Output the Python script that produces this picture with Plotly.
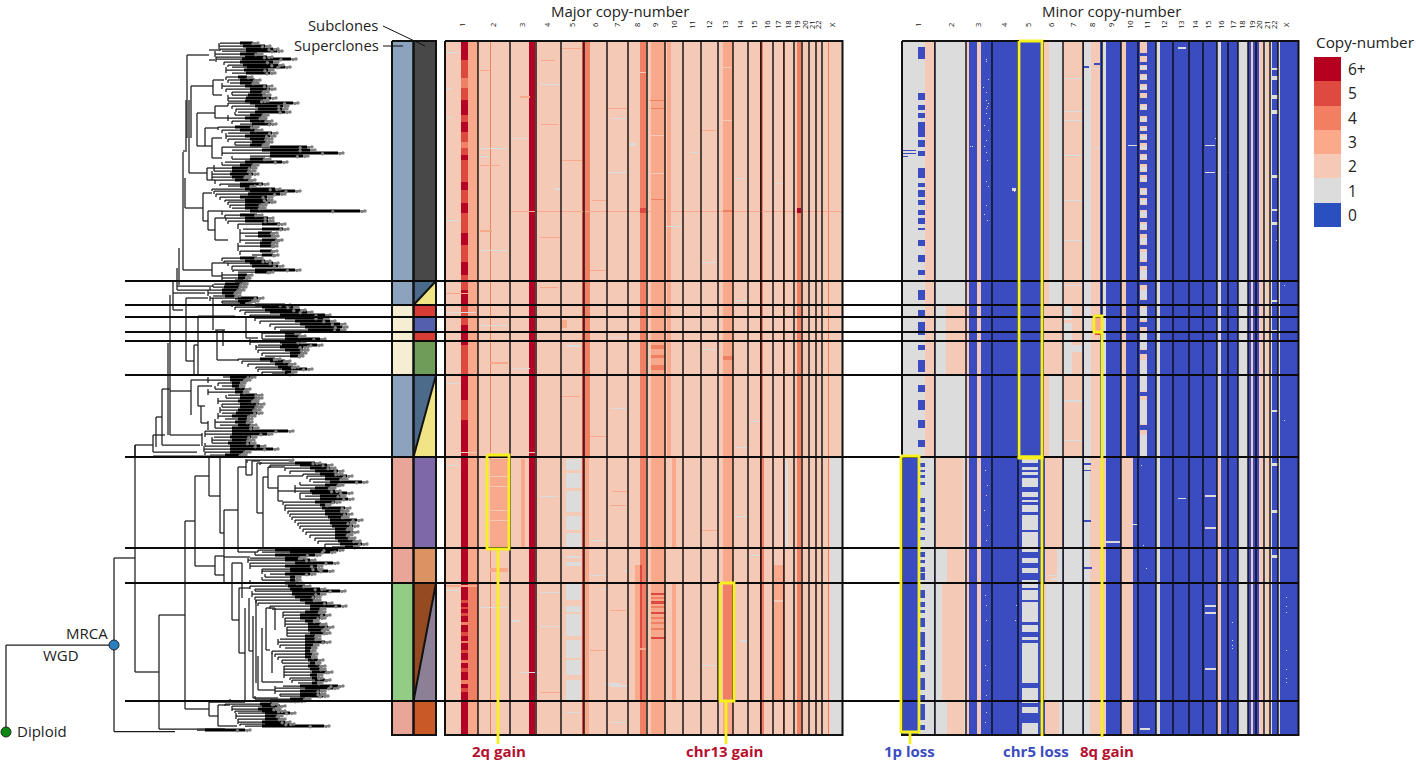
import numpy as np
import plotly.graph_objects as go

# ---------- colours ----------
CN_COLORS = ["#3b4cc0", "#dcdcdc", "#f4c9b5", "#f9a98b", "#f08064", "#dc4a3f", "#b40426"]
LEGEND_COLORS = ["#2a50bf", "#dcdcdc", "#f5c9b6", "#fba98a", "#f27f62", "#df4a40", "#b5001f"]
LEGEND_LABELS = ["6+", "5", "4", "3", "2", "1", "0"]
LEGEND_VALUES = [6, 5, 4, 3, 2, 1, 0]

# ---------- panel geometry ----------
PANEL_TOP, PANEL_BOTTOM = 41, 735
CLONE_LINES = [281, 305, 317, 332, 341, 375, 457, 548, 583, 701]
MAJOR_EDGES = [445, 478, 510, 536, 561, 584, 607, 628, 647, 665, 683, 701, 718, 733, 748, 761, 773, 784, 794, 802, 809, 816, 822, 842]
MINOR_EDGES = [902, 935, 966, 992, 1018, 1043, 1063, 1083, 1102, 1121, 1138, 1156, 1173, 1189, 1203, 1217, 1228, 1238, 1248, 1256, 1264, 1270, 1278, 1298]
CHR_NAMES = ["1","2","3","4","5","6","7","8","9","10","11","12","13","14","15","16","17","18","19","20","21","22","X"]
MAJOR_LABEL_X = [462,493,522,547,572,595,617,637,655,674,692,709,725,740,754,767,778,788,797,805,812,818,832]
MINOR_LABEL_X = [918,951,978,1004,1028,1051,1073,1092,1111,1130,1147,1164,1181,1195,1208,1221,1233,1242,1252,1259,1267,1274,1286]

# ---------- major copy-number blocks: (row0, row1, col0, col1, value) ----------
MAJOR_BLOCKS = [
    (41,735,468,478,3),(41,735,490,491,4),(41,457,529,535,6),(41,735,582,584,5),(41,457,584,590,4),
    (41,735,640,646,4),(41,735,651,665,3),(41,457,667,671,3),(41,735,723,733,3),(41,735,760,763,4),
    (41,735,760,761,6),(41,735,783,784,5),(41,735,797,801,4),(41,735,828,829,4),
    (457,735,529,535,6),(457,735,584,589,3),(457,735,461,468,6),
    (459,548,490,508,3),(459,548,521,525,3),(459,548,566,581,1),(548,583,566,581,2),
    (583,701,566,581,1),(701,735,566,581,2),(457,548,672,676,3),(565,701,635,642,3),(565,735,640,642,5),
    (583,701,468,478,4),(583,701,723,733,4),(565,701,774,783,3),(457,735,830,842,1),
    (460,548,785,788,1),(457,735,761,764,4),(583,701,672,676,3),(701,735,640,646,4),
]
CHR1_MID = [(41,60,6),(60,78,5),(78,88,4),(88,100,5),(100,115,6),(115,122,5),(122,132,6),(132,142,5),(142,148,4),
            (148,155,5),(155,160,6),(160,182,5),(182,190,6),(190,203,5),(203,213,6),(213,233,5),(233,245,6),
            (245,262,5),(262,275,6),(275,290,5),(290,305,6),(305,325,5),(325,345,6),(345,375,5),(375,400,6),
            (400,420,5),(420,457,6),(600,603,5),(607,609,5),(613,616,5),(622,625,4),(632,636,5),(641,643,4),
            (650,653,5),(660,663,4),(668,672,5),(680,684,4),(688,692,5)]
MAJOR_STREAKS = [
    (148,149,480,508,1),(156,157,480,490,1),(152,153,690,698,1),(88,89,445,452,1),(188,190,555,560,1),
    (52,53,445,460,1),(117,118,445,452,1),(60,61,541,555,3),(48,49,562,581,3),(108,109,607,627,3),
    (124,125,541,558,3),(211,212,510,842,3),(135,136,651,665,2),(173,174,651,665,2),(199,200,651,665,4),
    (108,109,651,665,4),(67,68,723,733,2),(120,121,723,733,2),(210,212,723,733,4),(208,213,640,646,5),
    (208,213,797,801,6),(172,173,607,627,1),(192,193,541,558,2),(72,73,640,646,2),(143,146,630,636,1),
    (165,166,480,500,3),(96,98,520,530,3),(230,232,480,492,3),(320,328,561,567,3),(345,349,651,665,4),
    (355,358,651,665,4),(365,370,651,665,4),(356,360,723,733,4),(345,347,566,581,1),(362,364,490,508,3),
    (293,294,445,478,3),(312,313,445,476,1),(337,338,607,627,1),(452,453,445,561,2),(456,457,607,840,1),
    (470,473,566,581,2),(488,491,566,581,2),(512,516,566,581,2),(530,533,566,581,2),(476,477,490,508,2),
    (486,487,490,508,2),(510,511,490,508,2),(520,521,490,508,2),(568,572,490,508,3),(556,558,566,581,1),
    (562,566,566,581,1),(600,606,566,581,2),(612,614,566,581,2),(636,640,566,581,2),(658,660,566,581,2),
    (675,680,566,581,2),(593,595,651,665,5),(597,599,651,665,4),(601,604,651,665,5),(606,608,651,665,4),
    (612,614,651,665,5),(617,619,651,665,4),(622,624,651,665,4),(628,630,651,665,4),(637,639,651,665,5),
    (617,618,541,558,2),(585,587,445,478,3),(616,618,690,701,2),(648,650,640,646,3),(685,687,610,628,1),
    (600,602,770,783,2),(640,642,740,748,1),(683,685,605,620,1),(491,492,612,628,3),(530,531,700,718,3),
    (672,673,520,540,1),(620,622,512,520,1),(575,576,590,606,1),(589,590,600,607,1),(570,572,625,628,1),
    (70,71,480,490,3),(84,85,540,560,1),(100,101,650,665,4),(118,119,610,626,1),(130,131,700,716,3),
    (138,139,512,528,1),(160,161,562,582,3),(178,179,735,745,1),(183,184,775,783,1),(200,201,592,606,3),
    (220,221,445,460,1),(226,227,665,682,1),(237,238,540,560,3),(250,251,480,508,1),(262,263,700,717,1),
    (270,271,590,606,3),(287,288,540,558,3),(300,301,735,747,1),(325,326,480,508,1),(349,350,700,717,1),
    (368,369,512,530,1),(383,384,445,460,1),(396,397,562,580,3),(408,409,610,626,1),(421,422,750,760,1),
    (436,437,590,606,3),(447,448,735,747,1),(465,466,445,460,1),(496,497,540,558,1),(505,506,610,626,3),
    (516,517,735,747,1),(540,541,590,606,1),(555,556,750,760,1),(592,593,540,560,1),(610,611,610,626,3),
    (626,627,540,560,1),(650,651,590,606,3),(665,666,700,717,1),(692,693,540,560,3),(712,713,566,581,1),
    (722,723,610,626,1),(590,591,445,460,1),(607,608,480,508,1),
]

# ---------- minor copy-number blocks ----------
MINOR_BLOCKS = [
    (41,457,902,918,1),(457,735,902,918,0),(41,735,918,925,1),(41,457,925,934,2),(457,735,925,934,1),
    (41,305,935,966,1),(305,375,935,946,1),(305,375,946,966,2),(375,457,935,966,1),
    (457,548,935,963,2),(457,548,963,966,1),(548,583,935,947,1),(548,583,947,964,2),(548,583,964,966,1),
    (583,701,935,942,1),(583,701,942,964,2),(583,701,964,966,1),(701,735,935,947,1),(701,735,947,964,2),(701,735,964,966,1),
    (41,735,966,969,2),(41,735,977,981,2),
    (457,735,1022,1038,1),
    (41,305,1043,1049,2),(41,305,1049,1063,1),(305,375,1043,1063,2),(375,457,1043,1049,2),(375,457,1049,1063,1),
    (457,548,1045,1063,2),(548,583,1045,1057,2),(548,583,1057,1063,1),(583,701,1043,1046,2),(583,701,1046,1063,1),
    (701,735,1045,1059,2),(701,735,1059,1063,1),
    (41,457,1063,1083,2),(457,735,1064,1083,1),(305,375,1063,1072,1),
    (41,735,1084,1091,1),(41,735,1091,1100,2),(457,735,1090,1102,2),
    (41,457,1102,1106,1),(457,735,1102,1106,2),
    (41,457,1121,1126,2),(457,735,1121,1133,2),(41,457,1140,1147,2),
    (41,735,1156,1160,1),(41,457,1217,1221,1),(457,735,1217,1221,2),
    (41,735,1238,1248,1),(41,735,1251,1253,2),(41,735,1259,1264,2),(41,735,1264,1266,1),(41,735,1266,1270,2),
    (41,735,1270,1272,1),(41,735,1278,1280,1),
]
CHR1P_ZERO = [(47,59),(93,100),(105,110),(113,118),(122,137),(140,147),(151,156),(168,172),(172,178),(183,187),(190,197),
              (200,205),(210,215),(218,224),(228,230),(240,246),(255,262),(270,275),(290,300),(310,316),(322,335),(345,350),
              (360,372),(385,392),(400,410),(420,428),(440,447),(463,467),(470,472),(475,478),(482,485),(498,503),(507,512),
              (517,523),(528,530),(537,540),(552,557),(560,563),(567,572),(573,580),(590,598),(602,607),(610,613),(618,627),
              (632,647),(650,660),(665,672),(678,690),(695,700),(704,720),(725,730)]
CHR5_ZERO = [(463,467),(470,472),(475,478),(487,492),(497,500),(502,505),(512,515),(530,532),(552,558),(563,568),(573,580),
             (588,590),(600,602),(622,625),(632,637),(640,643),(683,688),(703,707),(713,723)]
CHR11_ZERO = [(53,56),(62,65),(70,74),(80,84),(90,93),(98,104),(110,116),(122,126),(131,134),(140,143),(150,154),(160,164),
              (172,175),(182,188),(195,198),(205,210),(218,222),(230,234),(245,249),(262,266),(280,285),(300,304),(322,327),
              (350,354),(392,396),(425,430)]
CHR11_GREY = [(66,69),(76,79),(86,89),(106,109),(118,121),(128,130),(136,139),(146,149),(156,159),(167,171),(178,181),(190,194),
              (200,204),(212,217),(224,229),(238,244),(252,260),(270,279),(290,299),(308,320),(332,349),(360,391),(400,424),(435,456)]
CHR22_LIGHT = [(68,70),(76,80),(95,99),(110,114),(175,178),(209,211),(222,225),(300,302),(330,333),(410,412),(463,466),(510,513),(555,558)]
MINOR_SPOTS = [
    (59,986,1),(61,986,1),(79,988,1),(87,983,1),(92,986,2),(100,986,1),(103,988,2),(106,987,2),(108,986,2),(113,986,1),
    (118,989,1),(125,984,1),(130,988,1),(140,986,1),(146,984,1),(152,986,1),(160,987,1),(181,986,1),(186,988,1),(205,986,1),
    (214,984,1),(220,987,1),(470,985,1),(485,987,1),(495,986,2),(510,984,1),(525,987,1),(540,986,1),(595,985,1),(605,986,1),
    (620,986,1),(640,987,1),(665,985,1),(680,987,1),(695,986,1),(712,986,1),(722,985,1),
    (191,1014,1),(188,1015,1),(189,1014,1),(605,1016,1),(620,1015,1),(138,1215,1),(172,1227,1),(465,1141,1),(568,1146,1),
    (147,968,1),(146,970,1),(146,972,1),(485,1123,2),(545,1143,1),(645,1232,1),(622,1232,1),(640,1232,1),(648,1232,1),
    (240,1276,1),(285,1284,1),(340,1284,1),(420,1284,1),(597,1286,1),(606,1286,1),(612,1286,1),(650,1286,1),(669,1286,1),(678,1286,1),(682,1286,1),
]
MINOR_STREAKS = [
    (145,146,1205,1215,1),(172,173,1205,1215,1),(47,49,1178,1186,1),(145,146,1128,1137,1),(150,151,902,916,0),(153,154,902,916,0),
    (156,157,902,908,0),(68,69,1091,1099,1),(111,112,1063,1083,1),(78,79,1063,1083,1),(148,149,1094,1100,1),(188,191,1012,1016,1),
    (77,79,1084,1092,1),(66,68,1084,1089,0),(63,65,1094,1100,0),(495,497,1205,1216,1),(527,529,1205,1216,1),
    (605,607,1205,1216,1),(668,670,1205,1216,1),(548,549,1000,1008,1),(524,525,1132,1138,1),(541,543,1106,1120,1),
    (498,499,1178,1186,1),(612,614,1205,1216,1),(728,730,1140,1150,1),(590,591,1065,1083,1),(575,576,1048,1063,1),
    (567,569,1084,1092,0),(520,522,1084,1091,0),(463,465,1084,1091,0),(470,471,1084,1091,0),(578,580,1051,1060,1),
    (320,323,1064,1072,2),(332,335,1095,1101,5),(318,332,1095,1101,3),
    (120,121,1063,1083,1),(155,156,1063,1083,1),(200,201,1063,1083,1),(240,241,1063,1083,1),(285,286,1063,1083,1),
    (345,352,1072,1083,1),(400,402,1063,1083,1),(440,441,1063,1083,1),
]

# ---------- clone colour bands ----------
SUPER_EDGES = [41, 305, 375, 457, 583, 701, 735]
SUPER_COLORS = ["#8ba3bd", "#f5eed2", "#8ba3bd", "#e8a598", "#93cc85", "#e8a598"]
SUB_EDGES = [41, 281, 305, 317, 332, 341, 375, 457, 548, 583, 701, 735]
SUB_COLORS = ["#484848", "#4c6b8a", "#d63c35", "#5560ad", "#d63c35", "#6f9c58", "#4c6b8a", "#7f68a8", "#db9363", "#964a22", "#c95a28"]
SUB_SPLITS = [(281, 305, "#f0e484"), (375, 457, "#f0e484"), (583, 701, "#8b8096")]

# ---------- tree: inner branches ----------
BRANCH_H = [
    (645,6,114),(558,114,135),(731.5,114,175),(672,135,159),(615,159,185),(729,159,197),(521,185,195),(709,185,209),
    (476,195,209),(566,195,215),(496,209,220),(533,220,224),(510,224,238),(583,224,232),(467,238,246),(552,238,258),
    (475,246,252),(461,252,260),(463,257,262),(513,257,263),(477,263,268),(467,268,285),(488,268,278),(476,278,303),
    (491,278,295),(501,278,283),(556,215,224),(575,215,224),(557,224,250),(563,232,242),(588,239,250),(620,232,239),
    (653,239,245),(651,249,253),(698,253,278),(690,258,275),(682,262,283),(608,266,275),(650,266,270),
    (702,209,245),(716,209,218),(705,218,230),(726,218,237),(729,197,225),
    (55,187,209),(50,209,220),(60,209,215),(86,191,213),(80,213,224),(95,213,222),(113,197,215),(106,215,228),(118,215,228),
    (128,205,218),(146,197,212),(138,212,222),(158,212,222),(173,189,207),(168,207,214),(180,207,215),(151,183,187),
    (208,185,203),(193,203,212),(221,203,208),(211,208,222),(230,208,215),(218,215,226),(240,215,228),
    (270,183,212),(263,212,228),(276,212,222),(286,177,213),(290,177,210),(293,173,205),(298,186,208),
    (310,173,183),(345,194,198),(316,198,235),(361,186,194),(330,215,225),(360,217,238),(338,246,258),
    (391,170,191),(380,191,208),(386,198,212),(423,201,208),(406,198,205),(435,170,202),(445,135,153),(435,153,165),
    (417,156,162),(389,162,170),(445,162,200),(452,153,197),(456,153,210),
]
BRANCH_V = [
    (6,645,732),(114,558,731.5),(135,445,672),(159,615,729),(185,521,709),(195,476,566),(209,458,496),(220,458,533),
    (224,510,583),(238,467,552),(246,459,475),(252,461,475),(257,463,513),(263,477,548),(268,467,488),(278,476,501),
    (215,556,575),(232,563,620),(242,563,598),(239,588,653),(245,608,700),(249,598,651),(253,616,698),(256,600,683),
    (258,656,690),(262,628,682),(266,608,650),(275,608,630),(272,653,673),
    (209,702,716),(218,705,726),
    (187,55,138),(191,86,138),(197,113,146),(213,80,95),(215,106,118),(205,128,146),(212,138,158),(189,100,173),(207,168,180),
    (186,100,150),(183,152,270),(185,178,208),(203,193,221),(208,211,230),(215,218,240),(212,263,276),(179,248,285),(177,268,290),
    (173,280,310),(170,295,435),(186,298,361),(198,316,375),(194,345,376),(213,298,330),(217,330,360),(223,330,346),(246,318,338),
    (191,380,415),(198,386,406),(201,406,423),(208,421,430),(202,433,446),(168,343,435),(135,445,456),(153,435,452),(156,417,447),(162,389,445),
]

# ---------- tree: leaves per clade (row, stem, dense start, tip) ----------
LEAVES_A = [(43,220,240,258),(46,219,243,270),(49,220,246,278),(51,222,246,282),(54,215,240,262),(57,216,245,272),(59,216,242,296),
            (62,224,240,278),(65,228,243,283),(67,232,247,290),(70,226,244,273),(73,232,246,275)]
LEAVES_B = [(77,226,238,252),(80,228,240,260),(83,230,240,258),(86,222,245,272),(89,226,250,275),(92,232,250,268),(95,232,248,270),
            (98,228,246,276),(101,228,245,268)]
LEAVES_C = [(103,228,250,298),(106,232,255,288),(109,236,258,287),(112,238,255,290),(115,235,250,268),(118,228,245,266),
            (121,232,250,272),(124,240,252,276)]
LEAVES_D = [(127,218,235,258),(130,222,240,262),(133,228,250,277),(136,226,245,275),(139,228,250,272),(142,235,252,272),(145,235,250,268)]
LEAVES_E = [(147,222,270,312),(150,232,262,315),(153,222,270,343),(156,250,270,308),(159,232,250,270)]
LEAVES_F = [(162,225,245,287),(165,222,240,258),(168,214,232,256),(171,214,232,255),(174,212,230,258),(177,212,232,250),
            (180,215,235,255),(184,220,240,268),(186,228,240,255)]
LEAVES_G = [(189,212,245,280),(191,214,250,300),(194,216,248,285),(197,220,240,272),(200,225,245,272),(202,228,245,275),
            (205,230,245,266),(208,232,245,265)]
LEAVES_H = [(211,222,250,365),(215,225,240,262),(218,226,245,273),(221,228,245,273),(224,238,262,285),(229,243,262,288),(233,240,258,277),
            (236,245,258,278),(240,240,262,282),(243,245,260,277),(246,238,260,277),(251,240,260,277),(255,252,262,278)]
LEAVES_I = [(258,222,240,262),(261,224,245,270),(263,228,250,278),(266,232,252,283),(270,233,255,300),(272,238,255,273),(275,222,238,252),
            (278,222,238,250),(281,224,235,248)]
LEAVES_J = [(284,214,225,247),(287,213,224,246),(290,210,222,244),(293,208,222,240),(296,213,225,240),(298,210,235,263),(301,222,238,258),(303,222,240,250)]
LEAVES_K = [(305,232,255,290),(307,235,262,298),(310,240,265,305),(312,245,270,312),(315,250,280,330),(318,255,285,328),(321,260,295,335),
            (324,270,300,345),(327,275,305,347),(330,280,308,345)]
LEAVES_L = [(333,262,285,300),(336,265,285,305),(339,262,285,325),(342,250,280,305),(345,258,282,322),(347,256,280,308),(350,258,285,308),
            (353,262,290,306),(356,265,290,303)]
LEAVES_M = [(359,238,260,280),(361,242,270,290),(364,248,275,295),(367,256,278,298),(369,258,282,312),(372,262,285,296),(374,272,285,292)]
LEAVES_N = [(377,223,230,255),(380,208,230,250),(383,218,232,245),(386,222,232,244),(389,215,235,250),(392,208,235,248),(395,228,240,262),
            (398,226,240,262),(401,218,238,258),(404,222,240,264),(407,222,240,262),(410,220,238,260),(413,222,236,262),(416,218,232,255),
            (419,225,238,252),(422,215,235,252),(425,220,238,256),(428,215,232,258)]
LEAVES_O = [(431,205,232,293),(434,205,232,272),(437,214,230,256),(440,212,232,254),(443,212,228,255),(446,205,230,265),(449,204,230,278),
            (452,205,230,250),(455,210,225,246)]
LEAVES_P = [(460,247,290,293),(463,260,295,320),(465,270,300,332),(468,285,310,335),(471,290,315,343),(474,303,320,342),(476,307,325,352),
            (479,310,325,347),(482,313,330,367),(485,300,325,343),(488,295,315,335),(491,295,310,340),(493,300,312,352),(496,305,320,345),(499,300,320,353)]
LEAVES_Q = [(502,283,315,340),(505,285,320,330),(508,285,322,350),(511,288,325,348),(514,290,325,352),(517,292,328,348),(520,295,330,362),
            (523,298,330,355),(526,300,332,358),(529,303,335,352),(532,306,335,358),(535,310,335,352),(538,315,335,355),(541,318,338,360),(544,325,340,367),(547,332,345,358)]
LEAVES_R = [(550,258,275,343),(552,262,290,335),(555,255,275,320)]
LEAVES_S = [(558,250,285,305),(560,248,285,315),(563,250,295,338),(566,250,285,322),(569,262,290,322),(571,262,290,333),(574,270,285,315),
            (577,265,290,300),(580,262,290,300),(583,250,285,302)]
LEAVES_T = [(586,250,288,310),(589,255,290,325),(591,255,292,345),(594,252,292,325),(597,255,295,320),(600,256,300,320),(603,258,305,332),
            (606,270,310,346),(609,272,310,325)]
LEAVES_U = [(612,283,305,325),(615,283,300,330),(618,285,300,325),(621,285,305,318),(624,285,308,326),(627,287,308,333),(630,287,308,328),
            (633,287,310,330),(636,287,305,320)]
LEAVES_V = [(639,280,305,320),(642,278,305,330),(645,280,305,318),(648,285,305,316)]
LEAVES_W = [(651,272,305,315),(654,275,305,317),(657,278,305,316),(660,282,308,323),(663,282,310,320)]
LEAVES_X = [(666,284,308,325),(669,284,310,325),(672,284,312,332),(675,284,310,322),(678,290,312,322),(680,292,315,330),(683,298,312,322)]
LEAVES_Y = [(686,283,300,343),(688,275,305,338),(691,275,300,325),(694,280,300,325),(696,280,300,328),(699,255,290,310),(701,230,270,305)]
LEAVES_Z = [(704,225,260,277),(706,232,262,285),(709,232,258,280),(711,235,262,285),(713,238,265,295),(716,236,265,282),(719,238,265,285),
            (722,238,262,290),(724,240,265,294),(726,245,262,329)]
LEAVES_ZZ = [(730,197,205,250)]
ALL_CLADES = [LEAVES_A,LEAVES_B,LEAVES_C,LEAVES_D,LEAVES_E,LEAVES_F,LEAVES_G,LEAVES_H,LEAVES_I,LEAVES_J,LEAVES_K,LEAVES_L,LEAVES_M,
              LEAVES_N,LEAVES_O,LEAVES_P,LEAVES_Q,LEAVES_R,LEAVES_S,LEAVES_T,LEAVES_U,LEAVES_V,LEAVES_W,LEAVES_X,LEAVES_Y,LEAVES_Z,LEAVES_ZZ]

# ---------- annotations ----------
YELLOW = "#f6f01e"
HILITE_BOXES = [(487,509,455,549),(720,734,583,701),(901,919,456,732),(1019,1042,41,457),(1019,1042,457,458),(1094,1102,316,332)]
HILITE_LEADS = [(498,549,744),(726,701,744),(910,732,744),(1042,457,736),(1102,332,737)]
CALL_TEXT = ["2q gain", "chr13 gain", "1p loss", "chr5 loss", "8q gain"]
CALL_X = [499, 724, 909, 1036, 1107]
CALL_COLOR = ["#b5102e", "#b5102e", "#3b4cc0", "#3b4cc0", "#b5102e"]

FONT = "Open Sans"

def paint_panel(x0, x1, base, blocks):
    z = np.full((PANEL_BOTTOM - PANEL_TOP, x1 - x0), base, dtype=np.int8)
    for r0, r1, c0, c1, v in blocks:
        z[max(r0 - PANEL_TOP, 0):r1 - PANEL_TOP, max(c0 - x0, 0):c1 - x0] = v
    return z

major_blocks = list(MAJOR_BLOCKS) + [(a, b, 461, 468, v) for a, b, v in CHR1_MID] + list(MAJOR_STREAKS)
z_major = paint_panel(445, 842, 2, major_blocks)

minor_blocks = list(MINOR_BLOCKS)
minor_blocks += [(a, b, 918, 925, 0) for a, b in CHR1P_ZERO]
minor_blocks += [(a, b, 1022, 1038, 0) for a, b in CHR5_ZERO]
minor_blocks += [(a, b, 1140, 1147, 1) for a, b in CHR11_GREY]
minor_blocks += [(a, b, 1140, 1147, 0) for a, b in CHR11_ZERO]
minor_blocks += [(a, b, 1272, 1278, 1) for a, b in CHR22_LIGHT]
minor_blocks += [(y, y + 1, x, x + 1, v) for y, x, v in MINOR_SPOTS]
minor_blocks += list(MINOR_STREAKS)
z_minor = paint_panel(902, 1298, 0, minor_blocks)

def step_scale(colors):
    out = []
    for i, c in enumerate(colors):
        out += [[i / len(colors), c], [(i + 1) / len(colors), c]]
    return out

fig = go.Figure()
for z, x0 in ((z_major, 445), (z_minor, 902)):
    fig.add_trace(go.Heatmap(z=z, x0=x0 + .5, dx=1, y0=PANEL_TOP + .5, dy=1, zmin=-.5, zmax=6.5,
                             colorscale=step_scale(CN_COLORS), showscale=False, hoverinfo="skip"))

# legend cells
LEG_TOP, LEG_STEP = 57, 24.3
fig.add_trace(go.Heatmap(z=[[v] for v in LEGEND_VALUES], x0=1327.5, dx=27, y0=LEG_TOP + LEG_STEP / 2, dy=LEG_STEP, zmin=-.5, zmax=6.5,
                         colorscale=step_scale(LEGEND_COLORS), showscale=False, hoverinfo="skip"))

def add_poly(xs, ys, color):
    fig.add_trace(go.Scatter(x=xs, y=ys, mode="lines", fill="toself", fillcolor=color, line=dict(width=0), hoverinfo="skip"))

# clone bands
SX0, SX1, SX2 = 392, 413.5, 436
for i, c in enumerate(SUPER_COLORS):
    a, b = SUPER_EDGES[i], SUPER_EDGES[i + 1]
    add_poly([SX0, SX1, SX1, SX0], [a, a, b, b], c)
for i, c in enumerate(SUB_COLORS):
    a, b = SUB_EDGES[i], SUB_EDGES[i + 1]
    add_poly([SX1, SX2, SX2, SX1], [a, a, b, b], c)
seg_x, seg_y = [], []
for a, b, c in SUB_SPLITS:
    add_poly([SX2, SX2, SX1], [a, b, b], c)
    seg_x += [SX2, SX1, None]; seg_y += [a, b, None]

# tree
thin_x, thin_y, core_x, core_y, dot_x, dot_y = [], [], [], [], [], []
for y, a, b in BRANCH_H:
    thin_x += [a, b, None]; thin_y += [y, y, None]
for x, a, b in BRANCH_V:
    thin_x += [x, x, None]; thin_y += [a, b, None]
for clade in ALL_CLADES:
    for i, (y, stem, core, tip) in enumerate(clade):
        thin_x += [stem, tip, None]; thin_y += [y, y, None]
        core_x += [core, max(core, tip - 5), None]; core_y += [y, y, None]
        span = tip - core
        dot_x += [tip, tip - 3, core + span * .72]
        dot_y += [y, y + .6, y + .8]
        if i + 1 < len(clade):
            nxt = clade[i + 1]
            sx = min(stem, nxt[1])
            thin_x += [sx, sx, None]; thin_y += [y, nxt[0], None]
fig.add_trace(go.Scatter(x=thin_x, y=thin_y, mode="lines", line=dict(color="#1c1c1c", width=1.25), hoverinfo="skip"))
fig.add_trace(go.Scatter(x=core_x, y=core_y, mode="lines", line=dict(color="#000000", width=3), hoverinfo="skip"))
fig.add_trace(go.Scatter(x=dot_x, y=dot_y, mode="markers", marker=dict(color="#808080", size=3.4), hoverinfo="skip"))

# panel frames and separators
sep_x, sep_y = [], []
for edges in (MAJOR_EDGES, MINOR_EDGES):
    for e in edges[1:-1]:
        sep_x += [e, e, None]; sep_y += [PANEL_TOP, PANEL_BOTTOM, None]
fig.add_trace(go.Scatter(x=sep_x, y=sep_y, mode="lines", line=dict(color="#0c0c0c", width=1.4), hoverinfo="skip"))

frame_x, frame_y = list(seg_x), list(seg_y)
for a, b in ((445, 842.5), (902, 1298.5), (SX0, SX1), (SX1, SX2)):
    frame_x += [a, b, b, a, a, None]; frame_y += [PANEL_TOP, PANEL_TOP, PANEL_BOTTOM, PANEL_BOTTOM, PANEL_TOP, None]
fig.add_trace(go.Scatter(x=frame_x, y=frame_y, mode="lines", line=dict(color="#111111", width=2), hoverinfo="skip"))

line_x, line_y = [], []
for y in CLONE_LINES:
    line_x += [125, 1298, None]; line_y += [y, y, None]
fig.add_trace(go.Scatter(x=line_x, y=line_y, mode="lines", line=dict(color="#0a0a0a", width=1.9), hoverinfo="skip"))

# yellow highlights
hx, hy = [], []
for x0, x1, y0, y1 in HILITE_BOXES:
    hx += [x0, x1, x1, x0, x0, None]; hy += [y0, y0, y1, y1, y0, None]
for x, y0, y1 in HILITE_LEADS:
    hx += [x, x, None]; hy += [y0, y1, None]
fig.add_trace(go.Scatter(x=hx, y=hy, mode="lines", line=dict(color=YELLOW, width=2.8), hoverinfo="skip"))

# leaders
fig.add_trace(go.Scatter(x=[383, 425, None, 383, 403], y=[26, 46, None, 46, 46], mode="lines",
                         line=dict(color="#111111", width=1), hoverinfo="skip"))

# nodes
fig.add_trace(go.Scatter(x=[6], y=[732], mode="markers", marker=dict(color="#0b8a12", size=10, line=dict(color="#222", width=1)), hoverinfo="skip"))
fig.add_trace(go.Scatter(x=[114], y=[645], mode="markers", marker=dict(color="#2a7fc0", size=10, line=dict(color="#222", width=1)), hoverinfo="skip"))

notes = []
def note(text, x, y, size=15, color="#222222", anchor="center", angle=0, bold=False):
    notes.append(dict(text=f"<b>{text}</b>" if bold else text, x=x, y=y, xref="x", yref="y", showarrow=False,
                      xanchor=anchor, yanchor="middle", textangle=angle, font=dict(family=FONT, size=size, color=color)))

note("Major copy-number", 620, 10.5, 15)
note("Minor copy-number", 1111, 10.5, 15)
note("Copy-number", 1365, 42, 15.3)
for name, x in zip(CHR_NAMES, MAJOR_LABEL_X):
    note(name, x, 25, 7.5, "#111111", angle=-90)
for name, x in zip(CHR_NAMES, MINOR_LABEL_X):
    note(name, x, 25, 7.5, "#111111", angle=-90)
for i, lab in enumerate(LEGEND_LABELS):
    note(lab, 1346, LEG_TOP + LEG_STEP * (i + .5), 15.5, anchor="left")
for t, x, c in zip(CALL_TEXT, CALL_X, CALL_COLOR):
    note(t, x, 751, 15, c, bold=True)
note("Subclones", 380, 25, 14.8, anchor="right")
note("Superclones", 381, 45, 14.8, anchor="right")
note("MRCA", 110, 633, 15, anchor="right")
note("WGD", 61, 655, 15)
note("Diploid", 15, 731, 15, anchor="left")

fig.update_layout(
    width=1416, height=761, margin=dict(l=0, r=0, t=0, b=0), paper_bgcolor="white", plot_bgcolor="white",
    showlegend=False, annotations=notes,
    xaxis=dict(range=[0, 1416], visible=False, fixedrange=True),
    yaxis=dict(range=[761, 0], visible=False, fixedrange=True),
)
fig.write_html("out.html", config={"displayModeBar": False},
               post_script="document.body.style.margin='0';document.documentElement.style.overflow='hidden';")
